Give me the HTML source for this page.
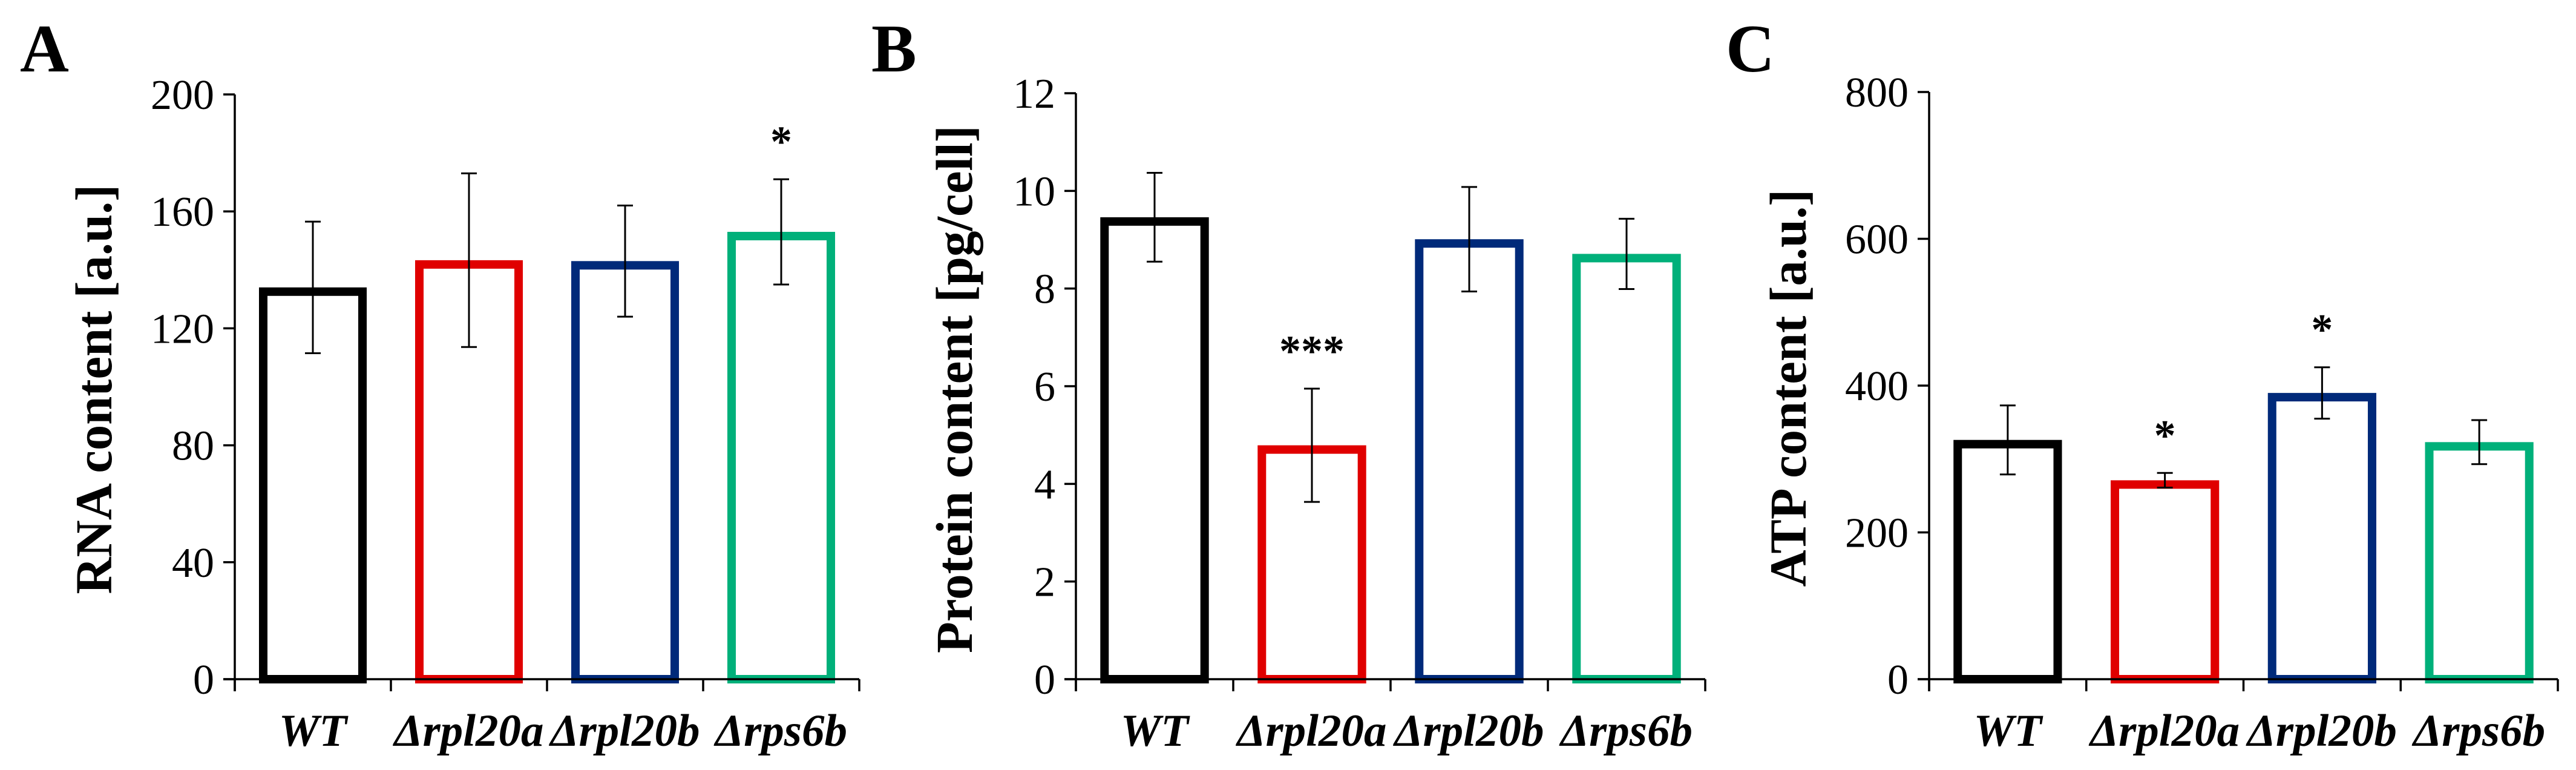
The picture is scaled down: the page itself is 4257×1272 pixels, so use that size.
<!DOCTYPE html>
<html><head><meta charset="utf-8"><style>
html,body{margin:0;padding:0;background:#fff;}
svg{display:block;font-family:"Liberation Serif",serif;}
</style></head><body>
<svg id="fig" width="4257" height="1272" viewBox="0 0 4257 1272" xmlns="http://www.w3.org/2000/svg"></svg>
<script>
const categories = ["WT", "\u0394rpl20a", "\u0394rpl20b", "\u0394rps6b"];
const rnaValues = [134, 143.3, 143, 153];
const rnaErrors = [22.5, 29.7, 19, 18];
const rnaStars = ["", "", "", "*"];
const rnaTicks = [0, 40, 80, 120, 160, 200];
const proteinValues = [9.46, 4.79, 9.01, 8.71];
const proteinErrors = [0.91, 1.16, 1.07, 0.72];
const proteinStars = ["", "***", "", ""];
const proteinTicks = [0, 2, 4, 6, 8, 10, 12];
const atpValues = [326, 271, 390, 323];
const atpErrors = [47, 10, 35, 30];
const atpStars = ["", "*", "*", ""];
const atpTicks = [0, 200, 400, 600, 800];
const colors = ["#000000", "#e00000", "#002a7a", "#00b07a"];

const NS = "http://www.w3.org/2000/svg";
const svg = document.getElementById("fig");
function mk(tag, attrs, parent, txt){
  const e = document.createElementNS(NS, tag);
  for (const k in attrs) e.setAttribute(k, attrs[k]);
  if (txt !== undefined) e.textContent = txt;
  (parent || svg).appendChild(e);
  return e;
}

function panel(o){
  const g = mk("g", {});
  
  
  const y0 = 1122, yTop = o.yTop, x0 = o.x0, x1 = o.x1;
  const ymax = o.ticks[o.ticks.length-1];
  const Y = v => y0 - (v / ymax) * (y0 - yTop);
  const cw = (x1 - x0) / categories.length;
  const X = i => x0 + cw * (i + 0.5);

  const lab = mk("text", {x:o.lx, y:118, "font-size":112, "font-weight":"bold"}, g, o.letter);
  
  

  const yt = mk("text", {transform:`translate(${o.tx},${o.tcy}) rotate(-90)`, "text-anchor":"middle", "font-size":86, "font-weight":"bold", textLength:o.tlen, lengthAdjust:"spacingAndGlyphs"}, g, o.title);
  
  

  o.values.forEach((v, i) => {
    const bw = cw * 0.69, sw = 14;
    const r = mk("rect", {x:X(i)-bw/2+sw/2, y:Y(v)+sw/2, width:bw-sw, height:y0-Y(v)-sw/2, fill:"none", stroke:colors[i], "stroke-width":sw}, g);
    
    
    const e = o.errors[i];
    const eg = mk("g", {stroke:"#000", "stroke-width":3}, g);
    
    
    mk("line", {x1:X(i), x2:X(i), y1:Y(v+e), y2:Y(v-e)}, eg);
    mk("line", {x1:X(i)-13, x2:X(i)+13, y1:Y(v+e), y2:Y(v+e)}, eg);
    mk("line", {x1:X(i)-13, x2:X(i)+13, y1:Y(v-e), y2:Y(v-e)}, eg);
    if (o.stars[i]) {
      const s = mk("text", {x:X(i), y:Y(v+e)-38, "text-anchor":"middle", "font-size":72, "font-weight":"bold"}, g, o.stars[i]);
      
      
    }
  });

  const ax = mk("g", {stroke:"#000", "stroke-width":3.5}, g);
  
  
  mk("line", {x1:x0, x2:x0, y1:yTop, y2:y0+20}, ax);
  mk("line", {x1:x0-19, x2:x1, y1:y0, y2:y0}, ax);
  for (let i = 0; i <= categories.length; i++) {
    mk("line", {x1:x0+cw*i, x2:x0+cw*i, y1:y0, y2:y0+20}, ax);
  }
  o.ticks.forEach(t => {
    mk("line", {x1:x0-19, x2:x0, y1:Y(t), y2:Y(t)}, ax);
    const tl = mk("text", {x:x0-34, y:Y(t)+24, "text-anchor":"end", "font-size":70}, g, String(t));
    
    
  });
  categories.forEach((c, i) => {
    const xl = mk("text", {x:X(i), y:1232, "text-anchor":"middle", "font-size":75, "font-weight":"bold", "font-style":"italic"}, g, c);
    
    
  });
}

panel({id:"rna", letter:"A", lx:33, x0:388, x1:1420, yTop:156, ticks:rnaTicks, values:rnaValues, errors:rnaErrors, stars:rnaStars, title:"RNA content  [a.u.]", tx:184, tcy:643, tlen:677});
panel({id:"protein", letter:"B", lx:1440, x0:1778, x1:2818, yTop:154, ticks:proteinTicks, values:proteinValues, errors:proteinErrors, stars:proteinStars, title:"Protein content  [pg/cell]", tx:1606, tcy:643, tlen:872});
panel({id:"atp", letter:"C", lx:2852, x0:3188, x1:4227, yTop:152, ticks:atpTicks, values:atpValues, errors:atpErrors, stars:atpStars, title:"ATP content  [a.u.]", tx:2984, tcy:641, tlen:657});
</script>
</body></html>
